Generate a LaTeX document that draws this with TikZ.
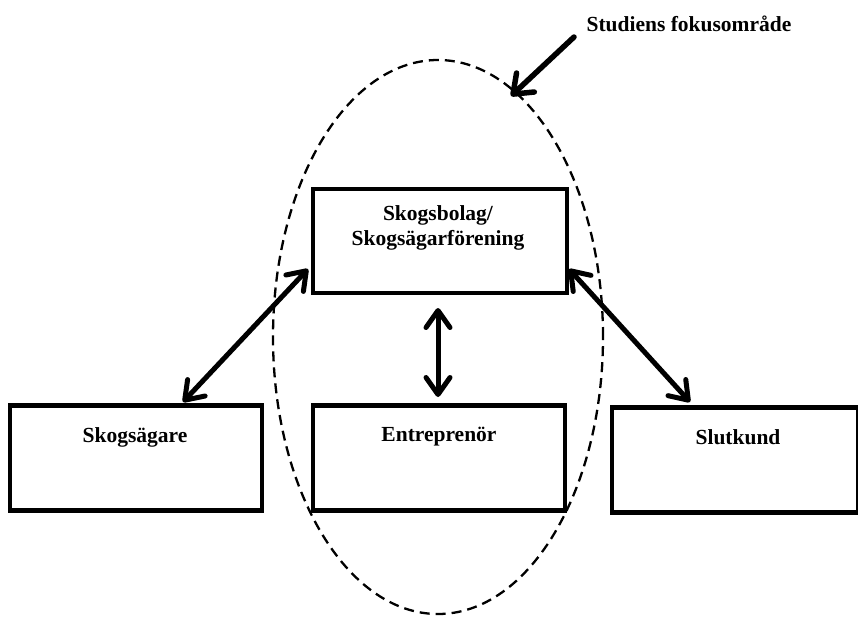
\documentclass[tikz,border=0pt]{standalone}
\usepackage{fontspec}
\setmainfont{Liberation Serif}
\usetikzlibrary{arrows.meta,shapes.geometric}
\begin{document}
\begin{tikzpicture}[x=1pt,y=-1pt,
  box/.style={draw=black, line width=4.5pt, minimum width=#1, minimum height=105pt, inner sep=0pt},
  lbl/.style={font=\fontsize{21.5}{25}\selectfont\bfseries, align=center, inner sep=0pt},
  link/.style={line width=5pt, line cap=round, {Straight Barb[length=17pt,width=24pt,line cap=round,line join=round]}-{Straight Barb[length=17pt,width=24pt,line cap=round,line join=round]}},
  pointer/.style={line width=5.5pt, line cap=round,
    -{Straight Barb[length=17pt,width=26pt,line cap=round,line join=round]}},
  focus/.style={draw=black, line width=2.3pt, dash pattern=on 10pt off 6pt}]
  \useasboundingbox (0,0) rectangle (858,616);
  % focus region
  \node[focus, ellipse, minimum width=330pt, minimum height=554pt, inner sep=0pt] (region) at (438,337) {};
  % boxes
  \node[box=254pt, minimum height=104pt] (bolag) at (440,241) {};
  \node[box=252pt] (agare) at (136,458) {};
  \node[box=252pt] (entre) at (439,458) {};
  \node[box=246pt] (kund) at (735,460) {};
  % labels
  \node[lbl] (bolagtxt) at (438,228) {Skogsbolag/\\Skogsägarförening};
  \node[lbl] (agaretxt) at (135,437) {Skogsägare};
  \node[lbl] (entretxt) at (439,437) {Entreprenör};
  \node[lbl] (kundtxt) at (738,437) {Slutkund};
  \node[lbl] (focustxt) at (689,24) {Studiens fokusområde};
  % connectors
  \coordinate (bl) at (308,269);
  \coordinate (al) at (183,402);
  \coordinate (bm) at (438,308);
  \coordinate (em) at (438,397);
  \coordinate (br) at (569,269);
  \coordinate (kr) at (690,402);
  \coordinate (ps) at (574,37);
  \coordinate (pe) at (511,96);
  \draw[link] (bl) -- (al);
  \draw[link] (bm) -- (em);
  \draw[link] (br) -- (kr);
  \draw[pointer] (ps) -- (pe);
\end{tikzpicture}
\end{document}
